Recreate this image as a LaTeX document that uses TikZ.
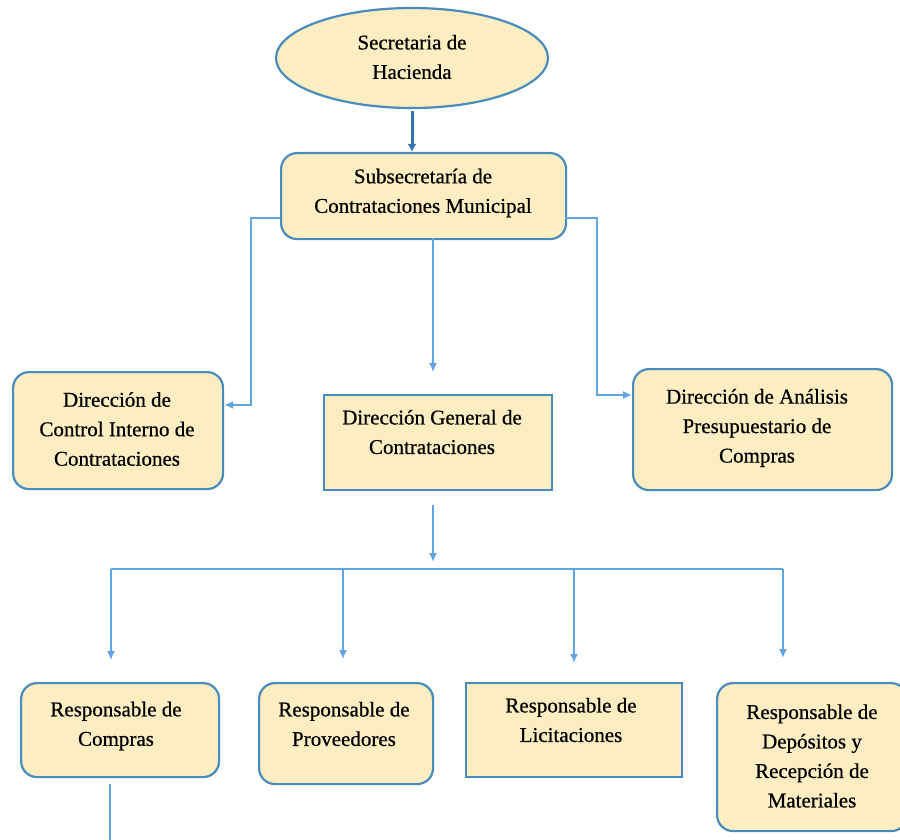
\documentclass[tikz,border=0pt]{standalone}
\usepackage{fontspec}
\setmainfont{Liberation Serif}[FakeBold=0.6]
\newfontfamily\boxfont{Liberation Serif}[FakeBold=0.6]
\usetikzlibrary{arrows.meta,shapes.geometric,positioning}
\definecolor{boxfill}{RGB}{253,237,194}
\definecolor{boxline}{RGB}{72,140,190}
\definecolor{conline}{RGB}{95,165,225}
\definecolor{darkarrow}{RGB}{55,115,175}
\tikzset{
  orgbox/.style={draw=boxline, fill=boxfill, line width=2.2pt, rounded corners=16pt, inner sep=0pt, anchor=north west},
  sharpbox/.style={draw=boxline, fill=boxfill, line width=2pt, inner sep=0pt, anchor=north west},
  orgtext/.style={align=center, font=\boxfont\fontsize{21}{29.5}\selectfont, inner sep=0pt},
  con/.style={draw=conline, line width=1.6pt},
  conarrow/.style={con, -{Latex[length=9pt,width=8pt]}},
}
\begin{document}
\begin{tikzpicture}[x=1pt,y=-1pt]
\useasboundingbox (0,0) rectangle (900,840);
% top ellipse
\node[ellipse, draw=boxline, fill=boxfill, line width=2.2pt, minimum width=272pt, minimum height=100pt, inner sep=0pt] (sec) at (412,58) {};
\node[orgtext] (sect) at (412,57) {Secretaria de\\Hacienda};
% subsecretaria
\node[orgbox, minimum width=285pt, minimum height=86pt] (sub) at (280,152) {};
\node[orgtext] (subt) at (423,193) {Subsecretaría de\\Contrataciones Municipal};
\draw[darkarrow, line width=3pt, -{Latex[length=8pt,width=9pt]}] (sec.south) ++(0,2) coordinate (s1) -- (sub.north -| s1);
% level 2
\node[orgbox, minimum width=210pt, minimum height=117pt] (ctrl) at (12,371) {};
\node[orgtext] (ctrlt) at (117,429) {Dirección de\\Control Interno de\\Contrataciones};
\node[sharpbox, minimum width=228pt, minimum height=95pt] (dg) at (323,394) {};
\node[orgtext] (dgt) at (432,432) {Dirección General de\\Contrataciones};
\node[orgbox, minimum width=259pt, minimum height=121pt] (ana) at (632,368) {};
\node[orgtext] (anat) at (757,428) {Dirección de Análisis\\Presupuestario de\\Compras};
\coordinate (subL) at (280,218);
\coordinate (subR) at (565,218);
\draw[conarrow] (subL) -- (251,218) -- (251,405) -- (ctrl.east |- 0,405);
\draw[conarrow] (subR) -- (597,218) -- (597,395) -- (ana.west |- 0,395);
\draw[conarrow] (433,238) -- (433,372);
% level 3
\coordinate (bus) at (433,569);
\draw[conarrow] (433,505) -- (433,562);
\draw[con] (111,569) -- (783,569);
\node[orgbox, minimum width=198pt, minimum height=94pt] (comp) at (20,682) {};
\node[orgtext] (compt) at (116,726) {Responsable de\\Compras};
\node[orgbox, minimum width=174pt, minimum height=101pt] (prov) at (258,682) {};
\node[orgtext] (provt) at (344,724) {Responsable de\\Proveedores};
\node[sharpbox, minimum width=216pt, minimum height=94pt] (lic) at (465,682) {};
\node[orgtext] (lict) at (571,720) {Responsable de\\Licitaciones};
\node[orgbox, minimum width=190pt, minimum height=148pt] (dep) at (716,682) {};
\node[orgtext] (dept) at (812,756) {Responsable de\\Depósitos y\\Recepción de\\Materiales};
\draw[conarrow] (111,569) -- (111,660);
\draw[conarrow] (343,569) -- (343,659);
\draw[conarrow] (574,569) -- (574,663);
\draw[conarrow] (783,569) -- (783,658);
\coordinate (below) at (110,842);
\draw[con] (comp.south -| below) ++(0,6) -- (below);
\end{tikzpicture}
\end{document}
